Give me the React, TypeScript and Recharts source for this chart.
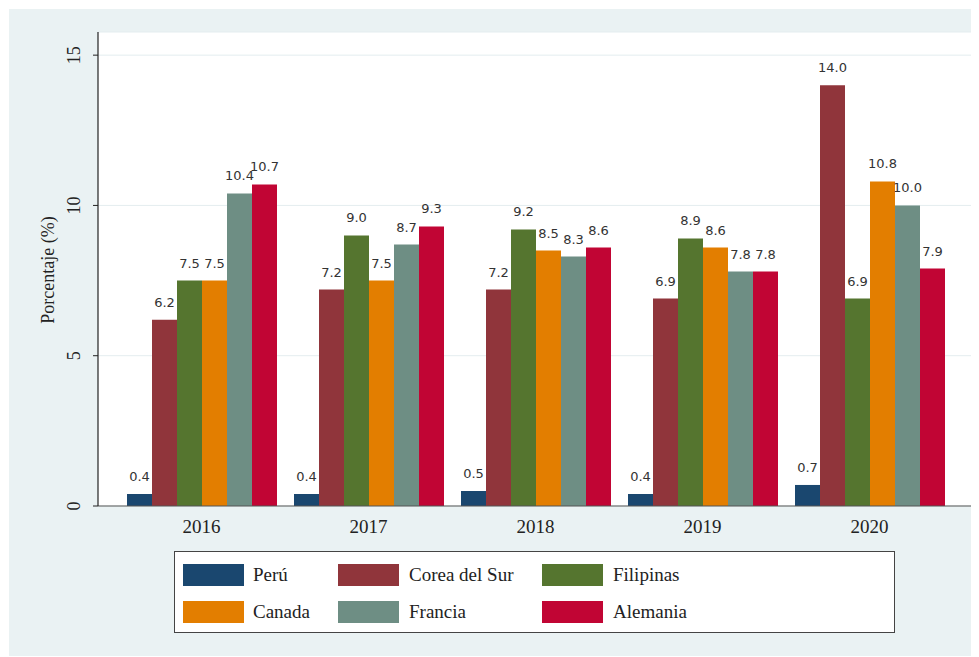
import React from 'react';
import { BarChart, Bar, XAxis, YAxis, CartesianGrid, LabelList, Legend } from 'recharts';

const years = ['2016', '2017', '2018', '2019', '2020'];
const peru = [0.4, 0.4, 0.5, 0.4, 0.7];
const corea = [6.2, 7.2, 7.2, 6.9, 14.0];
const filipinas = [7.5, 9.0, 9.2, 8.9, 6.9];
const canada = [7.5, 7.5, 8.5, 8.6, 10.8];
const francia = [10.4, 8.7, 8.3, 7.8, 10.0];
const alemania = [10.7, 9.3, 8.6, 7.8, 7.9];
const yTicks = [0, 5, 10, 15];

const seriesDefs = [
  { key: 'peru', name: 'Perú', color: '#1a476f', values: peru },
  { key: 'corea', name: 'Corea del Sur', color: '#90353b', values: corea },
  { key: 'filipinas', name: 'Filipinas', color: '#55752f', values: filipinas },
  { key: 'canada', name: 'Canada', color: '#e37e00', values: canada },
  { key: 'francia', name: 'Francia', color: '#6e8e84', values: francia },
  { key: 'alemania', name: 'Alemania', color: '#c10534', values: alemania },
];

const data = years.map((y, i) => {
  const row: any = { year: y };
  seriesDefs.forEach((s) => {
    row[s.key] = s.values[i];
  });
  return row;
});

const SERIF = '"Liberation Serif", "DejaVu Serif", serif';
const SANS = '"DejaVu Sans", sans-serif';

const YTick = (props: any) => {
  const { x, y, payload } = props;
  const cx = x - 19;
  return (
    <text
      x={cx}
      y={y}
      transform={`rotate(-90, ${cx}, ${y})`}
      textAnchor="middle"
      dominantBaseline="central"
      fontFamily={SERIF}
      fontSize={18}
      fill="#222"
    >
      {payload.value}
    </text>
  );
};

const XTick = (props: any) => {
  const { x, y, payload } = props;
  return (
    <text x={x} y={y} dy={27} textAnchor="middle" fontFamily={SERIF} fontSize={19} fill="#222">
      {payload.value}
    </text>
  );
};

const YLabel = () => (
  <text
    x={39}
    y={261}
    transform="rotate(-90, 39, 261)"
    textAnchor="middle"
    dominantBaseline="central"
    fontFamily={SERIF}
    fontSize={18}
    fill="#222"
  >
    Porcentaje (%)
  </text>
);

const swatchX = [8, 163, 367];
const labelX = [78, 234, 438];
const rowY = [12, 49];

const LegendBox = () => (
  <div
    style={{
      position: 'relative',
      width: 719,
      height: 80,
      background: '#fff',
      border: '1px solid #444',
      fontFamily: SERIF,
      fontSize: 19,
      color: '#222',
    }}
  >
    {seriesDefs.map((s, i) => {
      const col = i % 3;
      const row = Math.floor(i / 3);
      return (
        <React.Fragment key={s.key}>
          <div
            style={{
              position: 'absolute',
              left: swatchX[col],
              top: rowY[row],
              width: 61,
              height: 22,
              background: s.color,
            }}
          />
          <div
            style={{
              position: 'absolute',
              left: labelX[col],
              top: rowY[row] - 2,
              height: 26,
              lineHeight: '26px',
              whiteSpace: 'nowrap',
            }}
          >
            {s.name}
          </div>
        </React.Fragment>
      );
    })}
  </div>
);

export default function App() {
  return (
    <div
      style={{
        position: 'relative',
        left: 1,
        top: 1,
        width: 970,
        height: 648,
        background: '#eaf2f3',
      }}
    >
      <BarChart
        width={970}
        height={648}
        data={data}
        margin={{ top: 23, right: 7, left: 30, bottom: 121 }}
        barGap={0}
        barSize={25}
      >
        <CartesianGrid vertical={false} fill="#ffffff" stroke="#e4edef" strokeWidth={1} />
        <XAxis
          dataKey="year"
          height={30}
          tickLine={false}
          tickSize={0}
          tickMargin={0}
          tick={<XTick />}
          axisLine={{ stroke: '#555', strokeWidth: 1.2 }}
          padding={{ left: 20, right: 19 }}
        />
        <YAxis
          width={59}
          type="number"
          domain={[0, 15.77]}
          ticks={yTicks}
          interval={0}
          tickSize={5}
          tickMargin={0}
          tick={<YTick />}
          tickLine={{ stroke: '#222' }}
          axisLine={{ stroke: '#222', strokeWidth: 1.2 }}
          label={<YLabel />}
        />
        <Legend
          layout="horizontal"
          verticalAlign="middle"
          align="center"
          wrapperStyle={{ left: 165, top: 542, width: 721, height: 82 }}
          content={() => <LegendBox />}
        />
        {seriesDefs.map((s) => (
          <Bar key={s.key} dataKey={s.key} name={s.name} fill={s.color} isAnimationActive={false}>
            <LabelList
              dataKey={s.key}
              position="top"
              offset={13}
              formatter={(v: any) => Number(v).toFixed(1)}
              style={{ fontFamily: SANS, fontSize: 13, fill: '#333' }}
            />
          </Bar>
        ))}
      </BarChart>
    </div>
  );
}
